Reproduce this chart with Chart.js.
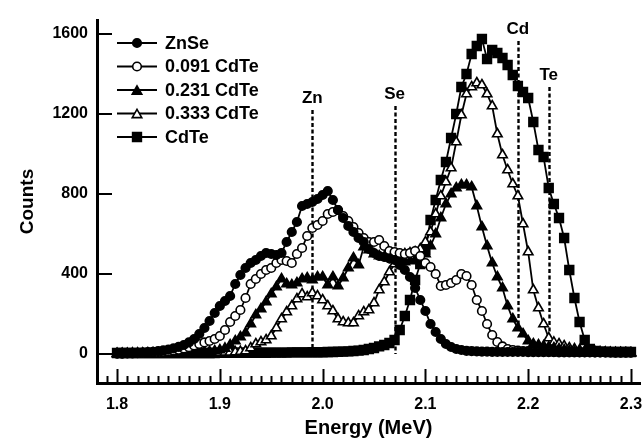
<!DOCTYPE html>
<html>
<head>
<meta charset="utf-8">
<script src="https://cdn.jsdelivr.net/npm/chart.js@4/dist/chart.umd.min.js"></script>
<style>
  html, body { margin: 0; padding: 0; background: #fff; }
  #wrap { width: 643px; height: 444px; position: relative; }
</style>
</head>
<body>
<div id="wrap"><canvas id="c" width="643" height="444"></canvas></div>
<script>
// ---- data ----
const energies = [
  1.800,1.805,1.810,1.815,1.820,1.825,1.830,1.835,1.840,1.845,
  1.850,1.855,1.860,1.865,1.870,1.875,1.880,1.885,1.890,1.895,
  1.900,1.905,1.910,1.915,1.920,1.925,1.930,1.935,1.940,1.945,
  1.950,1.955,1.960,1.965,1.970,1.975,1.980,1.985,1.990,1.995,
  2.000,2.005,2.010,2.015,2.020,2.025,2.030,2.035,2.040,2.045,
  2.050,2.055,2.060,2.065,2.070,2.075,2.080,2.085,2.090,2.095,
  2.100,2.105,2.110,2.115,2.120,2.125,2.130,2.135,2.140,2.145,
  2.150,2.155,2.160,2.165,2.170,2.175,2.180,2.185,2.190,2.195,
  2.200,2.205,2.210,2.215,2.220,2.225,2.230,2.235,2.240,2.245,
  2.250,2.255,2.260,2.265,2.270,2.275,2.280,2.285,2.290,2.295,
  2.300
];
const seriesNames = ['ZnSe', '0.091 CdTe', '0.231 CdTe', '0.333 CdTe', 'CdTe'];
const znse = [
  3,3,4,5,6,7,9,11,14,18,
  22,28,36,45,58,75,100,130,165,205,
  240,265,290,350,395,430,455,470,490,505,
  500,495,505,560,610,660,740,750,760,775,
  795,815,770,720,680,640,610,580,560,525,
  505,490,485,478,470,445,420,385,330,270,
  215,150,110,75,50,35,25,20,16,14,
  13,12,12,11,11,10,10,10,10,10,
  9,9,9,9,9,9,8,8,8,8,
  8,8,8,8,8,8,8,8,8,8,
  8
];
const cdte091 = [
  2,2,3,3,4,5,6,7,9,11,
  14,17,21,27,34,42,50,58,65,75,
  90,120,160,190,220,280,350,375,400,420,
  430,455,470,465,455,500,530,590,630,645,
  665,700,710,720,690,665,635,605,580,560,
  560,570,540,515,510,505,500,505,515,490,
  455,435,400,340,345,355,370,400,390,345,
  270,215,150,95,60,38,25,20,17,15,
  14,13,13,12,12,11,11,10,10,10,
  9,9,9,8,8,8,8,7,7,7,
  7
];
const cdte231 = [
  2,2,2,3,3,3,4,4,4,5,
  5,5,6,6,7,7,8,10,12,15,
  20,28,45,65,85,105,150,195,225,260,
  300,335,375,350,345,355,375,380,370,385,
  385,345,385,340,380,430,480,445,535,520,
  500,490,485,480,470,465,460,465,470,480,
  500,540,600,680,750,800,830,845,845,835,
  740,635,540,455,385,330,240,175,130,100,
  65,50,45,40,35,30,25,20,15,12,
  10,9,8,8,7,7,6,6,6,5,
  5
];
const cdte333 = [
  1,1,1,2,2,2,2,3,3,3,
  3,4,4,4,5,5,5,6,6,7,
  7,8,9,10,12,15,30,50,60,70,
  90,130,175,210,240,275,300,285,305,290,
  270,240,215,175,160,155,155,190,210,220,
  255,320,360,410,450,475,500,505,510,525,
  560,610,700,790,860,930,1060,1195,1300,1335,
  1355,1345,1300,1240,1100,995,920,850,790,650,
  510,320,230,150,80,58,50,40,30,25,
  20,15,12,10,9,8,7,6,6,5,
  5
];
const cdte = [
  5,5,5,5,5,5,5,5,5,5,
  5,5,5,5,5,5,5,5,5,5,
  6,6,6,6,6,6,6,6,6,6,
  7,7,7,7,8,8,8,8,9,9,
  9,10,10,11,12,13,15,17,20,25,
  30,38,45,55,70,120,190,270,370,450,
  520,670,770,870,960,1080,1200,1335,1400,1500,
  1540,1575,1475,1520,1505,1480,1445,1395,1340,1310,
  1280,1160,1020,985,830,750,680,580,420,280,
  160,70,25,15,12,11,10,10,10,10,
  10
];
const xTickLabels = [1.8, 1.9, 2.0, 2.1, 2.2, 2.3];
const yTickLabels = [0, 400, 800, 1200, 1600];
const refNames    = ['Zn', 'Se', 'Cd', 'Te'];
const refEnergies = [1.99, 2.07, 2.19, 2.22];
const refTops     = [1220, 1240, 1565, 1335];
const refBottoms  = [0, 0, 150, 100];

// ---- styling ----
const FONT = '"Liberation Sans", Arial, sans-serif';
const markerStyles = [
  { pointStyle: 'circle',   fill: '#000', radius: 4.3 },
  { pointStyle: 'circle',   fill: '#fff', radius: 4.3 },
  { pointStyle: 'triangle', fill: '#000', radius: 5.5 },
  { pointStyle: 'triangle', fill: '#fff', radius: 5.5 },
  { pointStyle: 'rect',     fill: '#000', radius: 6.2 }
];
const seriesValues = [znse, cdte091, cdte231, cdte333, cdte];

const datasets = seriesValues.map((vals, i) => ({
  label: seriesNames[i],
  data: energies.map((e, k) => ({ x: e, y: vals[k] })),
  borderColor: '#000',
  borderWidth: 1.8,
  pointStyle: markerStyles[i].pointStyle,
  pointRadius: markerStyles[i].radius,
  pointBackgroundColor: markerStyles[i].fill,
  pointBorderColor: '#000',
  pointBorderWidth: 1.6,
  tension: 0,
  fill: false,
  clip: false
}));

function drawMarker(ctx, style, radius, x, y, fill) {
  ctx.save();
  ctx.fillStyle = fill;
  ctx.strokeStyle = '#000';
  ctx.lineWidth = 1.6;
  ctx.beginPath();
  if (style === 'circle') {
    ctx.arc(x, y, radius, 0, Math.PI * 2);
  } else if (style === 'triangle') {
    for (let k = 0; k < 3; k++) {
      const a = -Math.PI / 2 + k * 2 * Math.PI / 3;
      const px = x + radius * Math.cos(a), py = y + radius * Math.sin(a) + radius * 0.25;
      if (k === 0) ctx.moveTo(px, py); else ctx.lineTo(px, py);
    }
    ctx.closePath();
  } else {
    const s = radius * Math.SQRT1_2;
    ctx.rect(x - s, y - s, 2 * s, 2 * s);
  }
  ctx.fill();
  ctx.stroke();
  ctx.restore();
}

const refLinesPlugin = {
  id: 'refLines',
  beforeDatasetsDraw(chart) {
    const { ctx, scales: { x, y } } = chart;
    ctx.save();
    ctx.strokeStyle = '#000';
    ctx.lineWidth = 2.4;
    ctx.setLineDash([4, 2.5]);
    refEnergies.forEach((e, i) => {
      const px = Math.round(x.getPixelForValue(e)) + 0.5;
      ctx.beginPath();
      ctx.moveTo(px, y.getPixelForValue(refTops[i]));
      ctx.lineTo(px, y.getPixelForValue(refBottoms[i]));
      ctx.stroke();
    });
    ctx.setLineDash([]);
    ctx.fillStyle = '#000';
    ctx.font = 'bold 17px ' + FONT;
    ctx.textAlign = 'center';
    ctx.textBaseline = 'alphabetic';
    refEnergies.forEach((e, i) => {
      ctx.fillText(refNames[i], x.getPixelForValue(e), y.getPixelForValue(refTops[i]) - 7);
    });
    ctx.restore();
  }
};

const ticksAndLegendPlugin = {
  id: 'ticksLegend',
  afterDraw(chart) {
    const { ctx, chartArea: ca, scales: { x, y } } = chart;
    ctx.save();
    ctx.strokeStyle = '#000';
    ctx.lineWidth = 2;
    yTickLabels.forEach(v => {
      const py = Math.round(y.getPixelForValue(v));
      ctx.beginPath();
      ctx.moveTo(ca.left, py);
      ctx.lineTo(ca.left + 15, py);
      ctx.stroke();
    });
    for (let k = 179; k <= 230; k++) {
      const v = k / 100;
      const px = Math.round(x.getPixelForValue(v)) + 0.5;
      const major = k % 10 === 0;
      ctx.beginPath();
      ctx.moveTo(px, ca.bottom);
      ctx.lineTo(px, ca.bottom - (major ? 14 : 7));
      ctx.stroke();
    }
    const lx0 = ca.left + 20, lx1 = ca.left + 60, tx = ca.left + 68;
    ctx.font = 'bold 18px ' + FONT;
    ctx.textAlign = 'left';
    ctx.textBaseline = 'middle';
    ctx.fillStyle = '#000';
    seriesNames.forEach((name, i) => {
      const ly = ca.top + 23 + i * 23.5;
      ctx.lineWidth = 1.8;
      ctx.beginPath();
      ctx.moveTo(lx0, ly);
      ctx.lineTo(lx1, ly);
      ctx.stroke();
      drawMarker(ctx, markerStyles[i].pointStyle, markerStyles[i].radius, (lx0 + lx1) / 2, ly, markerStyles[i].fill);
      ctx.fillStyle = '#000';
      ctx.fillText(name, tx, ly + 1);
    });
    ctx.restore();
  }
};

new Chart(document.getElementById('c'), {
  type: 'line',
  data: { datasets },
  options: {
    responsive: false,
    animation: false,
    events: [],
    layout: { autoPadding: false, padding: { top: 20, right: 3, left: 0, bottom: 0 } },
    plugins: { legend: { display: false }, tooltip: { enabled: false } },
    scales: {
      x: {
        type: 'linear',
        min: 1.7805,
        max: 2.3088,
        afterFit: s => { s.height = 61; s.paddingLeft = 0; s.paddingRight = 0; },
        afterBuildTicks: s => { s.ticks = xTickLabels.map(v => ({ value: v })); },
        grid: { display: false },
        border: { display: true, color: '#000', width: 3 },
        ticks: {
          color: '#000',
          padding: 4,
          maxRotation: 0,
          autoSkip: false,
          font: { family: FONT, size: 16, weight: 'bold' },
          callback: v => Number(v).toFixed(1)
        },
        title: {
          display: true,
          text: 'Energy (MeV)',
          color: '#000',
          font: { family: FONT, size: 20, weight: 'bold' },
          padding: { top: 0, bottom: 4 }
        }
      },
      y: {
        type: 'linear',
        min: -145,
        max: 1670,
        afterFit: s => { s.width = 97; s.paddingTop = 0; s.paddingBottom = 0; },
        afterBuildTicks: s => { s.ticks = yTickLabels.map(v => ({ value: v })); },
        grid: { display: false },
        border: { display: true, color: '#000', width: 3 },
        ticks: {
          color: '#000',
          padding: 1,
          font: { family: FONT, size: 16, weight: 'bold' },
          callback: v => String(v)
        },
        title: {
          display: true,
          text: 'Counts',
          color: '#000',
          font: { family: FONT, size: 19, weight: 'bold' },
          padding: { top: 16, bottom: 0 }
        }
      }
    }
  },
  plugins: [refLinesPlugin, ticksAndLegendPlugin]
});
</script>
</body>
</html>
